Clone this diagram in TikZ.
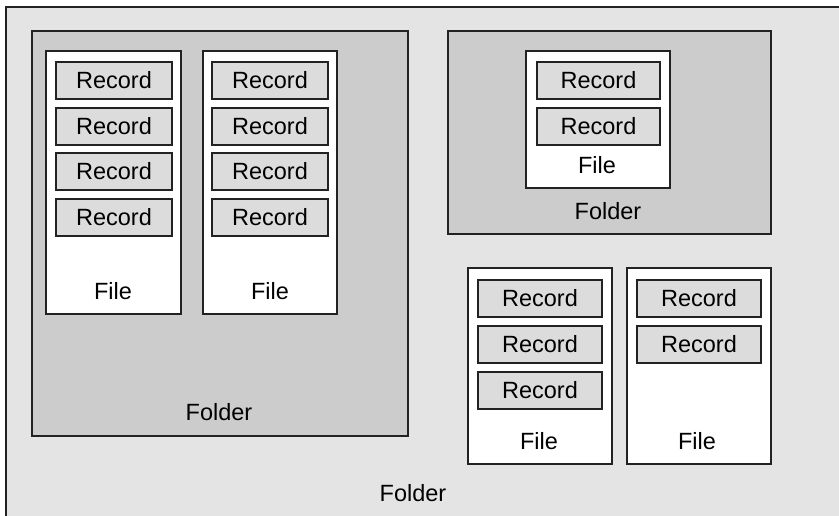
\documentclass[tikz,border=0pt]{standalone}
\usepackage{fontspec}
\setmainfont{Liberation Sans}
\definecolor{outerfill}{HTML}{E4E4E4}
\definecolor{folderfill}{HTML}{CCCCCC}
\definecolor{recfill}{HTML}{DCDCDC}
\definecolor{edge}{HTML}{222222}
% a box given by its top-left and bottom-right corners (y grows downwards)
\newcommand\boxnode[7]{\node[#1, anchor=north west, minimum width={#5pt-#3pt}, minimum height={#6pt-#4pt}] (#2) at (#3,#4) {#7};}
\begin{document}
\begin{tikzpicture}[x=1pt, y=-1pt,
  every node/.style={inner sep=0pt, outer sep=0pt, font=\fontsize{23.5}{25}\selectfont},
  outerbox/.style={draw=edge, line width=1.5pt, fill=outerfill},
  folderbox/.style={draw=edge, line width=1.5pt, fill=folderfill},
  filebox/.style={draw=edge, line width=1.5pt, fill=white},
  recbox/.style={draw=edge, line width=1.5pt, fill=recfill},
  lbl/.style={anchor=center}]
\useasboundingbox (0,0) rectangle (839,516);
\clip (0,0) rectangle (839,516);
\fill[white] (0,0) rectangle (839,516);

% outermost folder
\boxnode{outerbox}{root}{6}{7}{870}{550}{}
\node[lbl] (rootlbl) at (413,493) {Folder};

% left folder with two files of four records
\boxnode{folderbox}{fa}{32}{31}{408}{436}{}
\node[lbl] (falbl) at (219,412) {Folder};

\boxnode{filebox}{fileA}{46}{51}{181}{314}{}
\boxnode{recbox}{rA1}{56}{62}{172}{99}{Record}
\boxnode{recbox}{rA2}{56}{108}{172}{145}{Record}
\boxnode{recbox}{rA3}{56}{153}{172}{190}{Record}
\boxnode{recbox}{rA4}{56}{199}{172}{236}{Record}
\node[lbl] (fileAlbl) at (113,291) {File};

\boxnode{filebox}{fileB}{203}{51}{337}{314}{}
\boxnode{recbox}{rB1}{212}{62}{328}{99}{Record}
\boxnode{recbox}{rB2}{212}{108}{328}{145}{Record}
\boxnode{recbox}{rB3}{212}{153}{328}{190}{Record}
\boxnode{recbox}{rB4}{212}{199}{328}{236}{Record}
\node[lbl] (fileBlbl) at (270,291) {File};

% upper right folder with one file
\boxnode{folderbox}{fb}{448}{31}{771}{234}{}
\node[lbl] (fblbl) at (608,211) {Folder};

\boxnode{filebox}{fileC}{526}{51}{670}{188}{}
\boxnode{recbox}{rC1}{537}{62}{660}{99}{Record}
\boxnode{recbox}{rC2}{537}{108}{660}{145}{Record}
\node[lbl] (fileClbl) at (597,165) {File};

% loose files in the outer folder
\boxnode{filebox}{fileD}{468}{268}{612}{464}{}
\boxnode{recbox}{rD1}{478}{280}{602}{317}{Record}
\boxnode{recbox}{rD2}{478}{326}{602}{363}{Record}
\boxnode{recbox}{rD3}{478}{372}{602}{409}{Record}
\node[lbl] (fileDlbl) at (539,441) {File};

\boxnode{filebox}{fileE}{627}{268}{771}{464}{}
\boxnode{recbox}{rE1}{637}{280}{761}{317}{Record}
\boxnode{recbox}{rE2}{637}{326}{761}{363}{Record}
\node[lbl] (fileElbl) at (697,441) {File};
\end{tikzpicture}
\end{document}
